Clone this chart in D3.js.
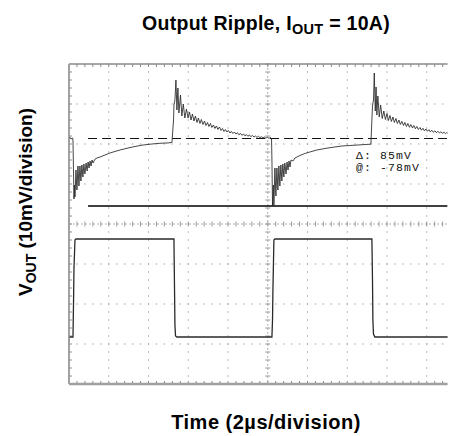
<!DOCTYPE html>
<html><head><meta charset="utf-8">
<script src="https://cdn.jsdelivr.net/npm/d3@7"></script>
<style>
html,body{margin:0;padding:0;background:#fff;}
svg{display:block;}
</style></head>
<body>
<svg id="chart" width="458" height="436"></svg>
<script>
// ---- data ----
// time in microseconds (2 us/division), voltage in screen mV (10 mV/division, 0 = screen centre)
const ch1Time = [0.03,0.10,0.18,0.20,0.23,0.25,0.28,0.30,0.35,0.40,0.45,0.50,0.55,0.60,0.65,0.70,0.75,0.80,0.86,0.91,0.96,1.01,1.06,1.11,1.16,1.21,1.31,1.41,1.56,1.81,2.06,2.31,2.57,2.92,3.32,3.72,4.17,4.58,4.93,5.18,
5.26,5.28,5.33,5.38,5.43,5.48,5.53,5.61,5.68,5.75,5.83,5.91,5.99,6.06,6.14,6.21,6.29,6.36,6.44,6.51,6.59,6.66,6.74,6.82,6.89,6.97,7.04,7.12,7.19,7.27,7.34,7.42,7.49,7.57,7.65,7.72,7.80,7.87,7.95,8.02,8.10,8.17,8.25,8.32,8.40,8.48,8.55,8.63,8.70,8.78,8.85,8.93,9.00,9.08,9.15,9.23,9.31,9.38,9.46,9.53,9.61,9.68,9.76,9.83,9.91,9.98,10.06,10.14,10.19,
10.21,10.24,10.28,10.31,10.36,10.41,10.46,10.51,10.56,10.61,10.66,10.71,10.76,10.81,10.86,10.92,10.97,11.02,11.07,11.12,11.17,11.27,11.37,11.62,11.87,12.12,12.47,12.88,13.28,13.73,14.13,14.54,14.94,15.19,
15.24,15.27,15.32,15.36,15.41,15.45,15.49,15.54,15.61,15.68,15.76,15.84,15.92,16.00,16.07,16.15,16.22,16.30,16.37,16.45,16.52,16.60,16.67,16.75,16.83,16.90,16.98,17.05,17.13,17.20,17.28,17.35,17.43,17.50,17.58,17.66,17.73,17.81,17.88,17.96,18.03,18.11,18.18,18.26,18.33,18.41,18.49,18.56,18.64,18.71,18.79,18.86,18.94,19.01,19.09,19.16];
const ch1mV = [21.75,21.25,21.5,21,12.25,6.25,9.75,6.75,13.5,8.5,14.5,9.5,14.5,10.75,14.75,11.75,15,12.5,15.25,13.25,15.5,14,15.75,14.5,16,15.25,16.25,16.5,16.75,17.25,17.75,18.13,18.5,18.93,19.38,19.75,20,20.18,20.25,20.38,
26,29.75,31,36,28.5,34,27.75,32.25,27,30,26.5,28.75,26.5,28,26,27.5,25.75,27,25.38,26.5,25.13,26.13,24.88,25.75,24.63,25.38,24.38,25.13,24.13,24.75,23.88,24.5,23.63,24.25,23.38,23.88,23.13,23.63,23,23.38,22.75,23.13,22.63,23,22.5,22.8,22.3,22.63,22.18,22.5,22.05,22.33,21.93,22.25,21.83,22.13,21.75,22,21.65,21.93,21.58,21.83,21.5,21.75,21.45,21.7,21.4,21.63,21.38,
16,4.5,9.75,4.75,14,7,14,8.5,14.5,9.5,14.75,10.75,15,11.75,15.25,12.5,15.5,13.5,15.75,14.25,16,15.75,16.5,17.13,17.63,18,18.5,18.88,19.18,19.5,19.63,19.75,19.88,19.95,
26,29.5,31,37.75,28.25,34.25,27.25,32,26.75,29.75,26.38,28.25,26.13,27.63,25.88,27.13,25.63,26.75,25.38,26.38,25.13,26,24.88,25.63,24.63,25.38,24.38,25.13,24.18,24.88,24,24.63,23.8,24.38,23.63,24.13,23.45,23.93,23.3,23.75,23.18,23.58,23.05,23.43,22.93,23.3,22.83,23.18,22.75,23.05,22.68,22.95,22.6,22.88,22.55,22.8];
const ch2Time = [0.03,0.20,0.23,0.25,0.28,0.30,0.35,5.28,5.31,5.33,5.36,5.43,10.21,10.24,10.26,10.29,10.31,10.36,15.24,15.27,15.29,15.32,15.39,19.16];
const ch2Level = [-28.25,-28.25,-19,-11,-7,-4,-3.75,-3.75,-16.5,-25.25,-28,-28.25,-28.25,-24,-16.5,-9,-4,-3.75,-3.75,-14,-24,-27.5,-28.25,-28.25];
const dashedRef = {t0: 0.96, mV: 21.5};
const solidRef = {t0: 0.96, mV: 4.5};
const cursorLabels = ["\u0394: 85mV", "@: -78mV"];
const xMajor = [2,4,6,8,10,12,14,16,18];
const yMajor = [-30,-20,-10,0,10,20,30];

// ---- layout ----
const svg = d3.select("#chart");
const L = 69, T = 64, B = 384, R = 447.6;
const x = d3.scaleLinear().domain([0, 20]).range([L, 466.5]);
const y = d3.scaleLinear().domain([-40, 40]).range([B, T]);
const tEnd = x.invert(R);

svg.append("defs").append("clipPath").attr("id","plot")
  .append("rect").attr("x",L).attr("y",T).attr("width",R-L).attr("height",B-T);

const grid = svg.append("g");
const minorX = d3.range(0, tEnd, 0.4);
const minorY = d3.range(-40, 40.01, 2);

// dotted vertical grid lines
xMajor.filter(d => d !== 10).forEach(t => {
  grid.selectAll(null).data(minorY).enter().append("rect")
    .attr("x", x(t)-0.5).attr("y", d => y(d)-0.8).attr("width",1).attr("height",1.6)
    .attr("fill","#a8a8a8");
});
// dotted horizontal grid lines
yMajor.filter(d => d !== 0).forEach(v => {
  grid.selectAll(null).data(minorX).enter().append("rect")
    .attr("x", d => x(d)-0.8).attr("y", y(v)-0.5).attr("width",1.6).attr("height",1)
    .attr("fill","#a8a8a8");
});
// centre axes with minor ticks
grid.append("line").attr("x1",L).attr("x2",R).attr("y1",y(0)).attr("y2",y(0))
  .attr("stroke","#b0b0b0").attr("stroke-width",1).attr("stroke-dasharray","2,2");
grid.append("line").attr("x1",x(10)).attr("x2",x(10)).attr("y1",T).attr("y2",B)
  .attr("stroke","#b0b0b0").attr("stroke-width",1).attr("stroke-dasharray","2,2");
grid.selectAll(null).data(minorX).enter().append("line")
  .attr("x1",d=>x(d)).attr("x2",d=>x(d)).attr("y1",y(0)-2.5).attr("y2",y(0)+2.5)
  .attr("stroke","#999").attr("stroke-width",1);
grid.selectAll(null).data(minorY).enter().append("line")
  .attr("y1",d=>y(d)).attr("y2",d=>y(d)).attr("x1",x(10)-2.5).attr("x2",x(10)+2.5)
  .attr("stroke","#999").attr("stroke-width",1);
// border ticks
grid.selectAll(null).data(minorX.slice(1)).enter().append("line")
  .attr("x1",d=>x(d)).attr("x2",d=>x(d)).attr("y1",T).attr("y2",T+3)
  .attr("stroke","#888").attr("stroke-width",1);
grid.selectAll(null).data(minorX.slice(1)).enter().append("line")
  .attr("x1",d=>x(d)).attr("x2",d=>x(d)).attr("y1",B-3).attr("y2",B)
  .attr("stroke","#888").attr("stroke-width",1);
grid.selectAll(null).data(minorY.slice(1,-1)).enter().append("line")
  .attr("y1",d=>y(d)).attr("y2",d=>y(d)).attr("x1",L).attr("x2",L+3)
  .attr("stroke","#888").attr("stroke-width",1);

// frame (no right border)
svg.append("line").attr("x1",L).attr("x2",R).attr("y1",T).attr("y2",T).attr("stroke","#8a8a8a").attr("stroke-width",1.5);
svg.append("line").attr("x1",L).attr("x2",R).attr("y1",B).attr("y2",B).attr("stroke","#a0a0a0").attr("stroke-width",2.5);
svg.append("line").attr("x1",L).attr("x2",L).attr("y1",T).attr("y2",B).attr("stroke","#a0a0a0").attr("stroke-width",2);

const plot = svg.append("g").attr("clip-path","url(#plot)");
// reference lines
plot.append("line").attr("x1",x(dashedRef.t0)).attr("x2",R).attr("y1",y(dashedRef.mV)+0.5).attr("y2",y(dashedRef.mV)+0.5)
  .attr("stroke","#111").attr("stroke-width",1).attr("stroke-dasharray","9,5");
plot.append("line").attr("x1",x(solidRef.t0)).attr("x2",R).attr("y1",y(solidRef.mV)).attr("y2",y(solidRef.mV))
  .attr("stroke","#000").attr("stroke-width",1.6);

const line = d3.line().x(d=>x(d[0])).y(d=>y(d[1]));
plot.append("path").datum(ch1Time.map((t,i)=>[t,ch1mV[i]]))
  .attr("d",line).attr("fill","none").attr("stroke","#262626").attr("stroke-width",0.85);
plot.append("path").datum(ch2Time.map((t,i)=>[t,ch2Level[i]]))
  .attr("d",line).attr("fill","none").attr("stroke","#2a2a2a").attr("stroke-width",1.3);

// cursor read-out
svg.selectAll(null).data(cursorLabels).enter().append("text")
  .attr("x",356).attr("y",(d,i)=>158.5+i*12)
  .attr("font-family","'Liberation Mono', monospace").attr("font-size",11.5)
  .attr("letter-spacing",1.1).attr("fill","#111").text(d=>d);

// titles
const bold = "'Liberation Sans', Arial, sans-serif";
const title = svg.append("text").attr("x",266).attr("y",30).attr("text-anchor","middle")
  .attr("font-family",bold).attr("font-weight","bold").attr("font-size",19.5).attr("letter-spacing",0.3).attr("fill","#000");
title.append("tspan").text("Output Ripple, I");
title.append("tspan").attr("font-size",14.5).attr("dy",4).text("OUT");
title.append("tspan").attr("dy",-4).text(" = 10A)");

svg.append("text").attr("x",266).attr("y",429).attr("text-anchor","middle")
  .attr("font-family",bold).attr("font-weight","bold").attr("font-size",20).attr("letter-spacing",0.5).attr("fill","#000")
  .text("Time (2\u00B5s/division)");

const yl = svg.append("text").attr("transform","translate(32,202) rotate(-90)").attr("text-anchor","middle")
  .attr("font-family",bold).attr("font-weight","bold").attr("font-size",19).attr("fill","#000");
yl.append("tspan").text("V");
yl.append("tspan").attr("font-size",14).attr("dy",4).text("OUT");
yl.append("tspan").attr("dy",-4).text(" (10mV/division)");
</script>
</body></html>
